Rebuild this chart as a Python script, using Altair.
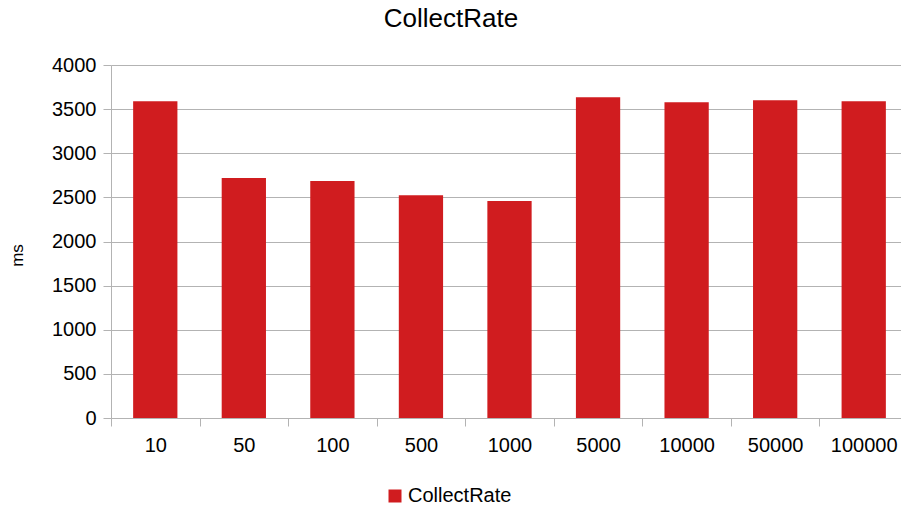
import altair as alt
import pandas as pd

categories = ["10", "50", "100", "500", "1000", "5000", "10000", "50000", "100000"]
values = [3590, 2720, 2685, 2525, 2460, 3635, 3578, 3600, 3590]
series = ["CollectRate"] * len(categories)

df = pd.DataFrame({"cat": categories, "ms": values, "series": series})

FONT = "Liberation Sans"
GRID = "#b3b3b3"

chart = alt.Chart(df).mark_bar(width=alt.RelativeBandSize(0.5)).encode(
    x=alt.X("cat:N", sort=categories,
            scale=alt.Scale(paddingInner=0, paddingOuter=0, round=False, range=[0, 797]),
            axis=alt.Axis(title=None, labelAngle=0, labelFontSize=20, labelFont=FONT,
                          labelColor="black", tickBand="extent", tickSize=8,
                          tickColor=GRID, domainColor=GRID, labelPadding=9,
                          grid=False)),
    y=alt.Y("ms:Q", scale=alt.Scale(domain=[0, 4000], round=False),
            axis=alt.Axis(title="ms", values=list(range(0, 4001, 500)), format="d",
                          labelFontSize=20, labelFont=FONT, labelColor="black",
                          tickSize=8, tickColor=GRID, domainColor=GRID, gridColor=GRID,
                          labelPadding=7, titleFontSize=17, titleFont=FONT,
                          titleFontWeight="normal", titleColor="black",
                          titleX=-94, titleY=190, titleAngle=-90,
                          titleAlign="center", titleBaseline="middle")),
    color=alt.Color("series:N", scale=alt.Scale(range=["#d01c1f"]),
                    legend=alt.Legend(title=None, orient="none", legendX=274, legendY=421,
                                      symbolType="square", symbolSize=169,
                                      symbolStrokeWidth=0, labelFontSize=20,
                                      labelFont=FONT, labelColor="black", labelOffset=3)),
).properties(
    width=790,
    height=353,
    title=alt.TitleParams("CollectRate", fontSize=26, font=FONT, fontWeight="normal",
                          color="black", anchor="middle", dx=-55, offset=23),
    padding={"left": 103, "top": 57, "right": 0, "bottom": 88},
    autosize=alt.AutoSizeParams(type="none"),
).configure_view(stroke=None)

chart.save("out.html", embed_options={"renderer": "svg", "actions": False})
